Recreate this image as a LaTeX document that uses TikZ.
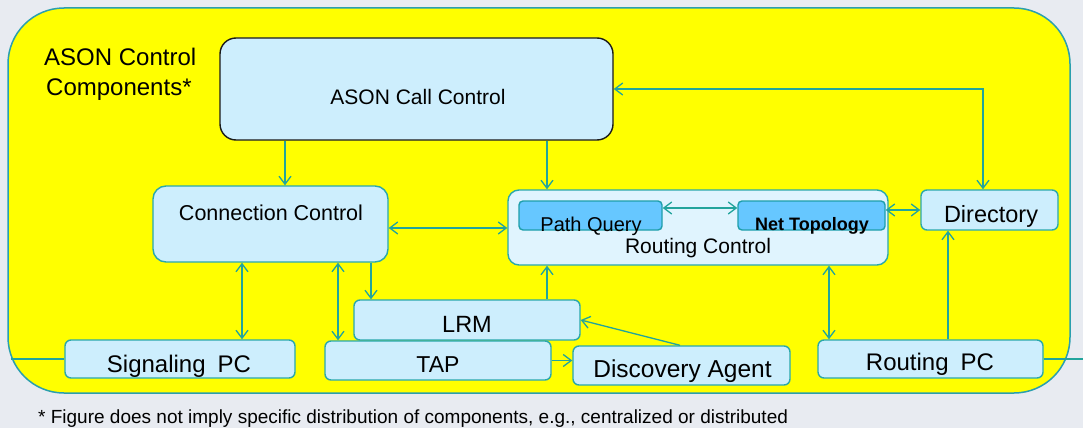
\documentclass[tikz,border=0pt]{standalone}
\usepackage{fontspec}
\setmainfont{Liberation Sans}
\usetikzlibrary{arrows.meta}

\definecolor{pagebg}{HTML}{E8EBF1}
\definecolor{framefill}{HTML}{FFFF00}
\definecolor{frameline}{HTML}{2A9FAE}
\definecolor{boxfill}{HTML}{CDEEFD}
\definecolor{boxline}{HTML}{2AA8AC}
\definecolor{routefill}{HTML}{E0F4FE}
\definecolor{innerfill}{HTML}{66C7FF}
\definecolor{innerline}{HTML}{1E9FAA}
\definecolor{callline}{HTML}{1A1A1A}
\definecolor{linkc}{HTML}{22A49C}
\definecolor{ink}{HTML}{000000}

\newcommand\fs[1]{\fontsize{#1}{#1}\selectfont}

\tikzset{
  frame/.style={draw=frameline, fill=framefill, line width=1.5pt,
    rounded corners=56pt, inner sep=0pt},
  box/.style={draw=boxline, fill=boxfill, line width=1.4pt,
    rounded corners=6pt, inner sep=0pt},
  innerbox/.style={draw=innerline, fill=innerfill, line width=1.4pt,
    rounded corners=4pt, inner sep=0pt, minimum height=29pt},
  lbl/.style={anchor=base, inner sep=0pt, text=ink},
  link/.style={draw=linkc, line width=1.3pt},
  ends/.style={link, {Straight Barb[length=8pt,width=12pt]}-{Straight Barb[length=8pt,width=12pt]}},
  onto/.style={link, -{Straight Barb[length=8pt,width=12pt]}},
}

\begin{document}
\begin{tikzpicture}[x=1pt,y=-1pt]
  \useasboundingbox (0,0) rectangle (1083,428);
  \fill[pagebg] (0,0) rectangle (1083,428);

  % outer frame
  \node[frame, minimum width=1062pt, minimum height=385pt] (frame) at (539,200.5) {};

  % component boxes
  \node[box, draw=callline, rounded corners=16pt, minimum width=393pt, minimum height=102pt] (call) at (416.5,89) {};
  \node[box, rounded corners=13pt, minimum width=235pt, minimum height=76pt] (conn) at (270.5,224) {};
  \node[box, fill=routefill, rounded corners=11pt, minimum width=380pt, minimum height=75pt] (route) at (698,227.5) {};
  \node[innerbox, minimum width=143pt] (pq) at (590.5,215.5) {};
  \node[innerbox, minimum width=147pt] (nt) at (811.5,215.5) {};
  \node[box, minimum width=137pt, minimum height=40pt] (dir) at (989.5,210) {};
  \node[box, minimum width=226pt, minimum height=40pt] (lrm) at (467,320) {};
  \node[box, minimum width=226pt, minimum height=39pt] (tap) at (438,360.5) {};
  \node[box, minimum width=217pt, minimum height=39pt] (disc) at (681.5,365.5) {};
  \node[box, minimum width=230pt, minimum height=38pt] (sig) at (180,359) {};
  \node[box, minimum width=225pt, minimum height=38pt] (rpc) at (930.5,359) {};

  % labels
  \node[lbl, anchor=base west, font=\fs{24}] (title1) at (44,65) {ASON Control};
  \node[lbl, anchor=base west, font=\fs{24}] (title2) at (46,95) {Components*};
  \node[lbl, font=\fs{21}] (calltext) at (418,104) {ASON Call Control};
  \node[lbl, font=\fs{21.5}] (conntext) at (271,220) {Connection Control};
  \node[lbl, font=\fs{21}] (routetext) at (698,253) {Routing Control};
  \node[lbl, font=\fs{20}] (pqtext) at (591,231) {Path Query};
  \node[lbl, font=\bfseries\fs{18}] (nttext) at (812,230) {Net Topology};
  \node[lbl, font=\fs{23.5}] (dirtext) at (991,222) {Directory};
  \node[lbl, font=\fs{23.5}] (lrmtext) at (467,332) {LRM};
  \node[lbl, font=\fs{23}] (taptext) at (438,372) {TAP};
  \node[lbl, font=\fs{24.5}] (disctext) at (682.5,377) {Discovery Agent};
  \node[lbl, font=\fs{24}] (sigtext) at (179,372) {Signaling\hspace{0.5em}PC};
  \node[lbl, font=\fs{24}] (rpctext) at (930,370) {Routing\hspace{0.5em}PC};
  \node[lbl, anchor=base west, font=\fs{19}] (note) at (38,423)
    {* Figure does not imply specific distribution of components, e.g., centralized or distributed};

  % reference positions for the connectors
  \coordinate (xA) at (285,0);
  \coordinate (xB) at (547,0);
  \coordinate (xDir) at (983,0);
  \coordinate (yCR) at (0,228);
  \coordinate (yPQ) at (0,208);
  \coordinate (xS) at (242,0);
  \coordinate (xT) at (338,0);
  \coordinate (xL) at (371,0);
  \coordinate (xDA) at (680,0);
  \coordinate (xR) at (829,0);
  \coordinate (xD2) at (948,0);
  \coordinate (leftEnd) at (10.5,359);
  \coordinate (rightEnd) at (1083,359);

  % connectors
  \draw[onto] (call.south -| xA) -- (conn.north -| xA);
  \draw[onto] (call.south -| xB) -- (route.north -| xB);
  \draw[ends] (call.east) -| (dir.north -| xDir);
  \draw[ends] (conn.east |- yCR) -- (route.west |- yCR);
  \draw[ends] (pq.east |- yPQ) -- (nt.west |- yPQ);
  \draw[ends] (nt.east |- dir.west) -- (dir.west);
  \draw[ends] (conn.south -| xS) -- (sig.north -| xS);
  \draw[ends] (conn.south -| xT) -- (tap.north -| xT);
  \draw[onto] (conn.south -| xL) -- (lrm.north -| xL);
  \draw[onto] (lrm.north -| xB) -- (route.south -| xB);
  \draw[onto] (disc.north -| xDA) -- (lrm.east);
  \draw[onto] (tap.east) -- (disc.west |- tap.east);
  \draw[ends] (route.south -| xR) -- (rpc.north -| xR);
  \draw[onto] (rpc.north -| xD2) -- (dir.south -| xD2);
  \draw[link] (leftEnd) -- (sig.west);
  \draw[link] (rpc.east) -- (rightEnd);
\end{tikzpicture}
\end{document}
